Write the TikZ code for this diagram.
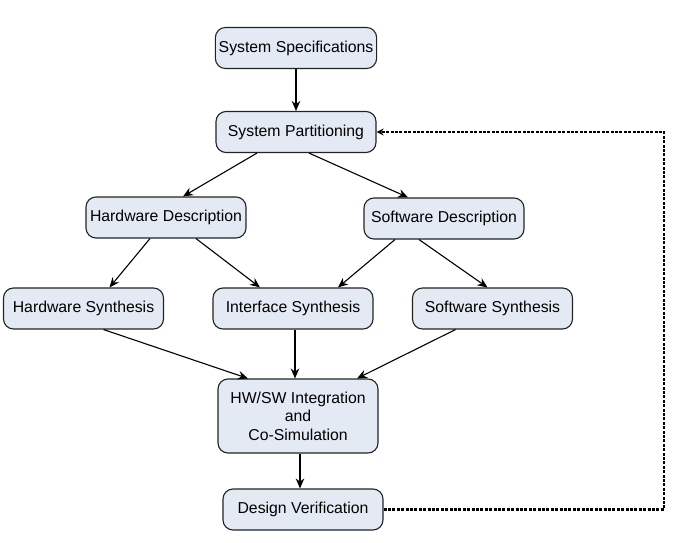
\documentclass[tikz,border=0pt]{standalone}
\usepackage{fontspec}
\setmainfont{Liberation Sans}
\usepackage{xcolor}
\usetikzlibrary{
    arrows.meta,
    calc,
    positioning
}
\definecolor{boxfill}{RGB}{228,234,244}
\definecolor{boxline}{RGB}{35,35,35}
\tikzset{
    flowbox/.style={draw=boxline, fill=boxfill, line width=1.1pt, rounded corners=10pt,
        minimum width=160pt, minimum height=41pt, align=center,
        font=\fontsize{15.8}{18.5}\selectfont},
    flowarrow/.style={line width=1.1pt, -{Stealth[length=10pt,width=8.5pt]}},
    feedback/.style={line width=2.6pt, dash pattern=on 3pt off 1.4pt,
        -{Stealth[length=7pt,width=7pt]}}
}

\begin{document}
\begin{tikzpicture}[x=1pt, y=1pt]
                        \useasboundingbox (0, 0) rectangle (688, -543);

                        \node[flowbox] (spec) at (296, -48) {System Specifications};
                        \node[flowbox] (part) at (296, -132) {System Partitioning};
                        \node[flowbox] (hwdesc) at (166, -217.5) {Hardware Description};
                        \node[flowbox] (swdesc) at (444, -218.5) {Software Description};
                        \node[flowbox] (hwsyn) at (83.5, -308.5) {Hardware Synthesis};
                        \node[flowbox] (ifsyn) at (293, -308.5) {Interface Synthesis};
                        \node[flowbox] (swsyn) at (492.5, -308.5) {Software Synthesis};
                        \node[flowbox, minimum height=74pt] (integ) at (298, -416)
                            {HW/SW Integration\\and\\Co-Simulation};
                        \node[flowbox] (verif) at (303, -509.5) {Design Verification};

                        \draw[flowarrow] (spec) -- (part);
                        \draw[flowarrow] ([xshift=-39pt]part.south) -- ([xshift=17pt]hwdesc.north);
                        \draw[flowarrow] ([xshift=13pt]part.south) -- ([xshift=-36pt]swdesc.north);
                        \draw[flowarrow] ([xshift=-16pt]hwdesc.south) -- ([xshift=26pt]hwsyn.north);
                        \draw[flowarrow] ([xshift=30pt]hwdesc.south) -- ([xshift=-33pt]ifsyn.north);
                        \draw[flowarrow] ([xshift=-49pt]swdesc.south) -- ([xshift=45pt]ifsyn.north);
                        \draw[flowarrow] ([xshift=-25pt]swdesc.south) -- ([xshift=-5pt]swsyn.north);
                        \draw[flowarrow] ([xshift=20pt]hwsyn.south) -- ([xshift=-50pt]integ.north);
                        \draw[flowarrow] ([xshift=2pt]ifsyn.south) -- ([xshift=2pt]ifsyn.south |- integ.north);
                        \draw[flowarrow] ([xshift=-37pt]swsyn.south) -- ([xshift=59pt]integ.north);
                        \draw[flowarrow] ([xshift=2pt]integ.south) -- ([xshift=2pt]integ.south |- verif.north);

                        % feedback loop
                        \coordinate (loop) at (664, 0);
                        \draw[feedback] (verif.east) -- (verif.east -| loop)
                            -- (part.east -| loop) -- (part.east);
                    \end{tikzpicture}
\end{document}
